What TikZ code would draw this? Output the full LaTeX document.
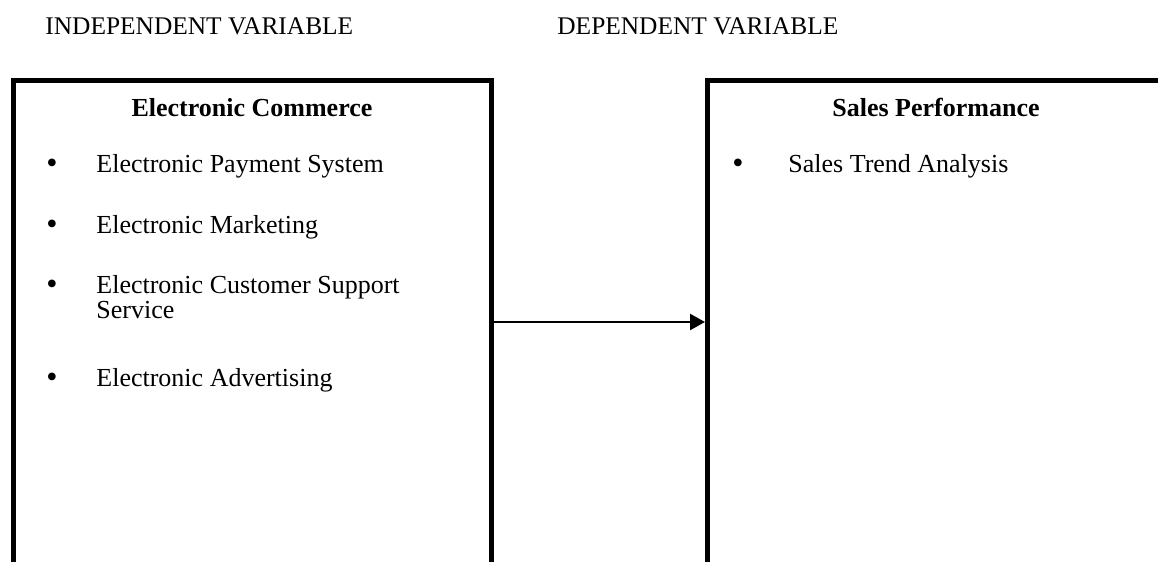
\documentclass[tikz,border=0pt]{standalone}
\usepackage{fontspec}
\setmainfont{Liberation Serif}
\usetikzlibrary{arrows.meta}
\begin{document}
\begin{tikzpicture}[x=0.5pt,y=-0.5pt,
  font=\fontsize{13}{15}\selectfont,
  framebox/.style={draw, line width=2.25pt, rectangle, inner sep=0pt, anchor=north west},
  txt/.style={anchor=base west, inner sep=0pt},
  toptxt/.style={anchor=base west, inner sep=0pt, font=\fontsize{12.7}{15}\selectfont},
  bul/.style={anchor=base, inner sep=0pt, font=\fontsize{16}{16}\selectfont},
  hd/.style={anchor=base, inner sep=0pt, font=\fontsize{13}{15}\selectfont\bfseries},
  conn/.style={line width=1.2pt, -{Triangle[length=7.5pt,width=8pt]}}]
\useasboundingbox (0,0) rectangle (1158,562);
\begin{scope}
\clip (0,0) rectangle (1158,562);
% headings above
\node[toptxt] (indep) at (45,34) {INDEPENDENT VARIABLE};
\node[toptxt] (dep) at (557,34) {DEPENDENT VARIABLE};
% boxes
\node[framebox, minimum width=239pt, minimum height=300pt] (lbox) at (11,78) {};
\node[framebox, minimum width=229pt, minimum height=300pt] (rbox) at (705,78) {};
% left content
\node[hd] (lhead) at (252,116) {Electronic Commerce};
\node[bul] (b1) at (52,173) {\textbullet};
\node[txt] (i1) at (96,172) {Electronic Payment System};
\node[bul] (b2) at (52,234) {\textbullet};
\node[txt] (i2) at (96,233) {Electronic Marketing};
\node[bul] (b3) at (52,294) {\textbullet};
\node[txt] (i3) at (96,293) {Electronic Customer Support};
\node[txt] (i3b) at (96,318) {Service};
\node[bul] (b4) at (52,387) {\textbullet};
\node[txt] (i4) at (96,386) {Electronic Advertising};
% right content
\node[hd] (rhead) at (936,116) {Sales Performance};
\node[bul] (b5) at (738,173) {\textbullet};
\node[txt] (i5) at (788,172) {Sales Trend Analysis};
% connector
\coordinate (ay) at (0,322);
\draw[conn] (lbox.east |- ay) -- (rbox.west |- ay);
\end{scope}
\end{tikzpicture}
\end{document}
